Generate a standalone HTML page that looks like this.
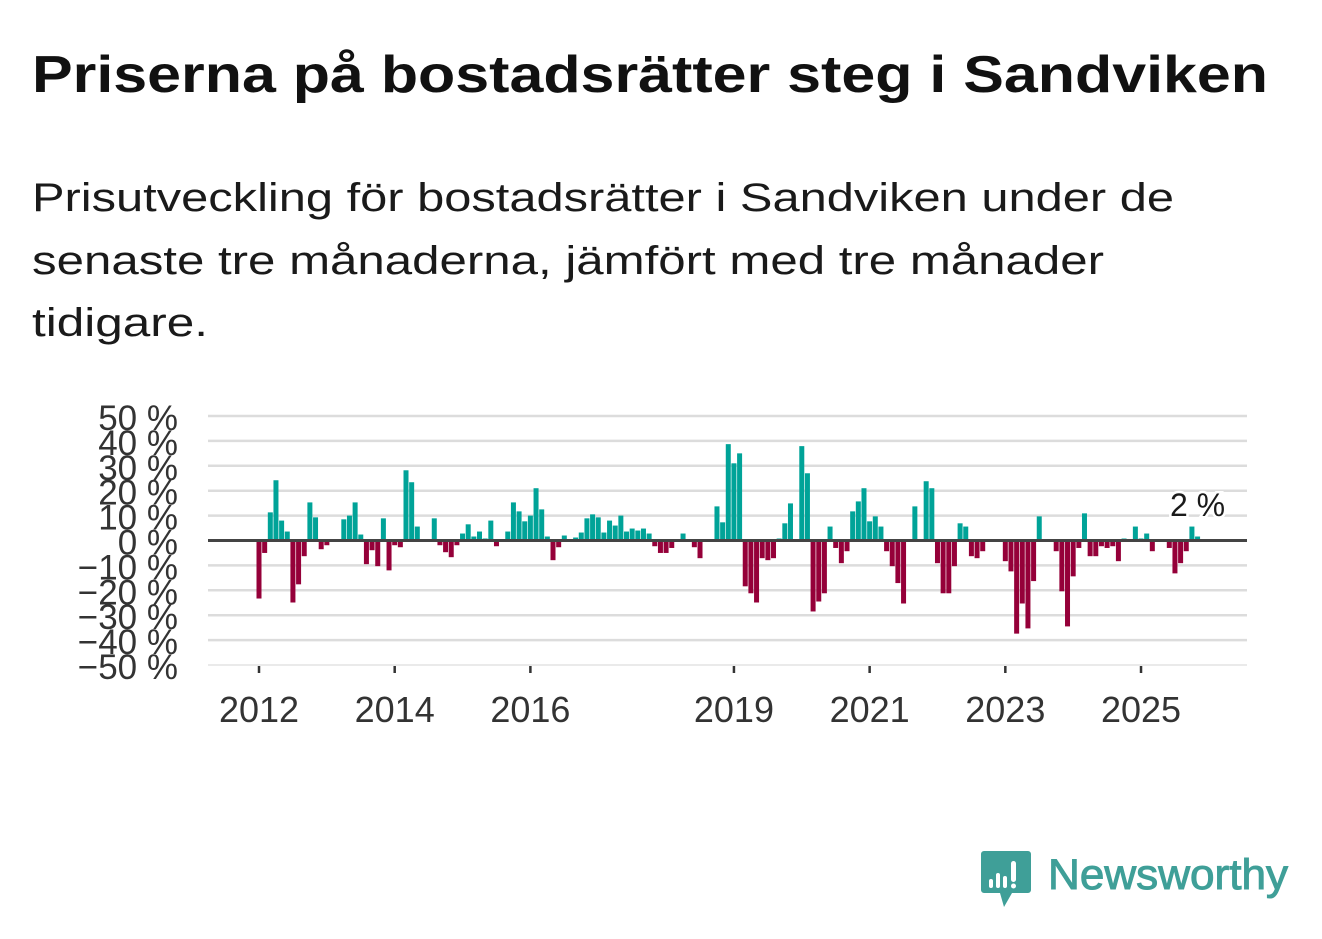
<!DOCTYPE html>
<html><head><meta charset="utf-8"><style>
html,body{margin:0;padding:0;background:#fff;}
svg{display:block;font-family:"Liberation Sans","DejaVu Sans",sans-serif;}
</style></head><body>
<svg id="chart" width="1322" height="939" viewBox="0 0 1322 939">
  <text x="32" y="92" font-size="52" font-weight="bold" fill="#111" textLength="1236" lengthAdjust="spacingAndGlyphs">Priserna på bostadsrätter steg i Sandviken</text>
  <g font-size="40" fill="#1a1a1a">
    <text x="32" y="211" textLength="1142" lengthAdjust="spacingAndGlyphs">Prisutveckling för bostadsrätter i Sandviken under de</text>
    <text x="32" y="274" textLength="1072" lengthAdjust="spacingAndGlyphs">senaste tre månaderna, jämfört med tre månader</text>
    <text x="32" y="336" textLength="176" lengthAdjust="spacingAndGlyphs">tidigare.</text>
  </g>
  <g id="grid"></g>
  <g id="yaxis"></g>
  <g id="bars"></g>
  <g id="xaxis"></g>
  <g>
    <path d="M984 851 h44 a3 3 0 0 1 3 3 v36 a3 3 0 0 1 -3 3 h-16 l-8 14 l-4 -14 h-16 a3 3 0 0 1 -3 -3 v-36 a3 3 0 0 1 3 -3z" fill="#3f9f98"/>
    <rect x="989" y="879" width="4" height="9" rx="2" fill="#fff"/>
    <rect x="996" y="873" width="4" height="15" rx="2" fill="#fff"/>
    <rect x="1003" y="876" width="4" height="12" rx="2" fill="#fff"/>
    <rect x="1011" y="861" width="5" height="21" rx="2.5" fill="#fff"/>
    <circle cx="1013.5" cy="886" r="2.5" fill="#fff"/>
    <text x="1048" y="889" font-size="43" fill="#3f9f98" stroke="#3f9f98" stroke-width="1" textLength="240" lengthAdjust="spacingAndGlyphs">Newsworthy</text>
  </g>
</svg>
<script>
const tickValues = [50,40,30,20,10,0,-10,-20,-30,-40,-50];
const yearLabels = ["2012","2014","2016","2019","2021","2023","2025"];
const yearValues = [2012,2014,2016,2019,2021,2023,2025];
const startYear = 2012;
const values = [
-23.3,-5,11.3,24.2,8,3.6,-24.9,-17.6,-6.3,15.3,9.3,-3.5,
-1.9,0,0,8.5,10,15.3,2.4,-9.5,-3.9,-10.3,8.9,-12,
-1.9,-2.7,28.2,23.4,5.6,0,0,8.9,-1.9,-4.7,-6.7,-1.9,
2.8,6.5,1.6,3.6,0.8,8,-2.3,0,3.6,15.3,11.7,7.7,
10,21,12.5,1.6,-7.9,-2.7,2,0,1.2,3.2,8.9,10.5,
9.3,3.2,8,6,10,3.6,4.8,4,4.8,2.8,-2.3,-5,
-5,-3,0,2.8,0,-2.7,-7.1,0,0,13.7,7.3,38.7,
31,35,-18.4,-21.2,-24.9,-7.1,-7.9,-7.1,0.8,6.9,14.9,0,
37.9,27,-28.5,-24.5,-21.2,5.6,-3,-9.1,-4.3,11.7,15.7,21,
7.7,9.7,5.6,-4.3,-10.3,-17.1,-25.3,0,13.7,0,23.8,21,
-9.1,-21.2,-21.2,-10.3,6.9,5.6,-6.3,-7.1,-4.3,0,0,0,
-8.3,-12.4,-37.4,-25.3,-35.3,-16.3,9.7,0,0,-4.3,-20.4,-34.5,
-14.4,-3,10.9,-6.3,-6.3,-2.3,-3,-2.3,-8.3,0.8,0,5.6,
0.8,2.8,-4.3,0,0,-3,-13.2,-9.1,-4.3,5.6,1.6
];
const lastLabel = "2 %";
const NS="http://www.w3.org/2000/svg";
const X0=208,X1=1247;
function y(v){return 540.5 - v*2.49;}
function xm(i){return 259 + i*5.654;}
function xy(yr){return 259 + (yr-startYear)*12*5.654;}
function mk(tag,attrs,parent){const e=document.createElementNS(NS,tag);for(const k in attrs)e.setAttribute(k,attrs[k]);parent.appendChild(e);return e;}
const grid=document.getElementById('grid'),yax=document.getElementById('yaxis'),bars=document.getElementById('bars'),xax=document.getElementById('xaxis');
tickValues.forEach(v=>{
  if(v!==0){
    const l=mk('line',{x1:X0,x2:X1,y1:y(v),y2:y(v),stroke:v===-50?'#e4e4e4':'#dcdcdc','stroke-width':v===-50?1.5:2.5},grid);
    
    
  }
  const t=mk('text',{x:178,y:y(v)+14,'text-anchor':'end','font-size':35,fill:'#333'},yax);
  t.textContent=(v<0?'\u2212'+(-v):v)+' %';
  
  
});
values.forEach((v,i)=>{
  if(v===0)return;
  const r=mk('rect',{x:xm(i)-2.5,width:5,y:v>0?y(v):y(0),height:Math.abs(y(v)-y(0)),fill:v>0?'#00a398':'#950039'},bars);
  
  
});
const z=mk('line',{x1:X0,x2:X1,y1:y(0),y2:y(0),stroke:'#444','stroke-width':3},grid.parentNode);


const li=values.length-1;
const lb=mk('text',{x:xm(li),y:516,'text-anchor':'middle','font-size':32,fill:'#1a1a1a',stroke:'#fff','stroke-width':5,'paint-order':'stroke'},grid.parentNode);
lb.textContent=lastLabel;


yearValues.forEach((yr,i)=>{
  const tk=mk('line',{x1:xy(yr),x2:xy(yr),y1:666,y2:673,stroke:'#333','stroke-width':2.5},xax);
  
  
  const t=mk('text',{x:xy(yr),y:722,'text-anchor':'middle','font-size':36,fill:'#333'},xax);
  t.textContent=yearLabels[i];
  
  
});
</script>
</body></html>
